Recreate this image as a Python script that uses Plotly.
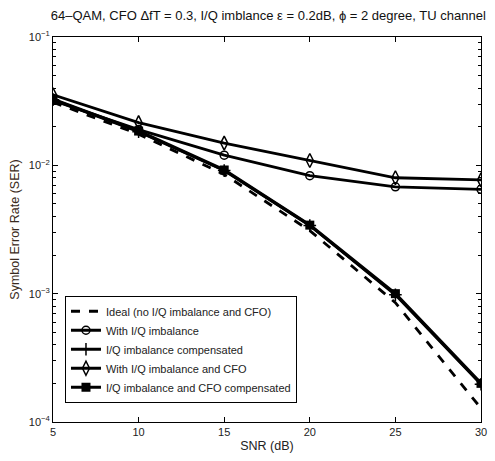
import plotly.graph_objects as go

snr = [5, 10, 15, 20, 25, 30]
ideal = [0.031, 0.0175, 0.0085, 0.0031, 0.00085, 0.000128]
with_iq = [0.032, 0.019, 0.012, 0.0083, 0.0068, 0.0065]
iq_comp = [0.0325, 0.0183, 0.0091, 0.0034, 0.00098, 0.000197]
with_iq_cfo = [0.0355, 0.0215, 0.0149, 0.0109, 0.0080, 0.0077]
iq_cfo_comp = [0.0328, 0.0185, 0.0092, 0.00342, 0.001, 0.0002]

names = ["Ideal (no I/Q imbalance and CFO)", "With I/Q imbalance",
         "I/Q imbalance compensated", "With I/Q imbalance and CFO",
         "I/Q imbalance and CFO compensated"]

fig = go.Figure()
fig.add_trace(go.Scatter(x=snr, y=ideal, name=names[0], mode="lines",
                         line=dict(color="black", width=2.8, dash="dash")))
fig.add_trace(go.Scatter(x=snr, y=with_iq, name=names[1], mode="lines+markers",
                         line=dict(color="black", width=2.8),
                         marker=dict(symbol="circle-open", size=8, color="black", line=dict(width=1.5))))
fig.add_trace(go.Scatter(x=snr, y=iq_comp, name=names[2], mode="lines+markers",
                         line=dict(color="black", width=2.8),
                         marker=dict(symbol="cross-thin-open", size=9, color="black", line=dict(width=1.5))))
fig.add_trace(go.Scatter(x=snr, y=with_iq_cfo, name=names[3], mode="lines+markers",
                         line=dict(color="black", width=2.8),
                         marker=dict(symbol="diamond-tall-open", size=10, color="black", line=dict(width=1.5))))
fig.add_trace(go.Scatter(x=snr, y=iq_cfo_comp, name=names[4], mode="lines+markers",
                         line=dict(color="black", width=3.2),
                         marker=dict(symbol="square", size=9, color="black")))

ytv = [1e-4, 1e-3, 1e-2, 1e-1]
ytt = ["10<sup>−4</sup>", "10<sup>−3</sup>", "10<sup>−2</sup>", "10<sup>−1</sup>"]
minor_vals = [m * 10 ** e for e in (-4, -3, -2) for m in range(2, 10)]

fig.update_layout(
    width=495, height=461,
    margin=dict(l=53, r=8, t=37, b=39),
    paper_bgcolor="white", plot_bgcolor="white",
    font=dict(family="Liberation Sans, Arial, sans-serif", size=11, color="#222"),
    title=dict(text="64–QAM, CFO ΔfT = 0.3, I/Q imblance ε = 0.2dB, ϕ = 2 degree, TU channel",
               x=0.542, xanchor="center", y=0.967, yanchor="middle",
               font=dict(size=13, color="#111")),
    showlegend=True,
    legend=dict(x=0.028, y=0.05, xanchor="left", yanchor="bottom",
                bgcolor="white", bordercolor="black", borderwidth=1,
                font=dict(size=11, color="#222"), tracegroupgap=0,
                itemwidth=30),
    xaxis=dict(range=[5, 30], tickvals=[5, 10, 15, 20, 25, 30],
               ticks="inside", ticklen=5, tickcolor="black",
               showline=True, linecolor="black", linewidth=1, mirror="allticks",
               showgrid=False, zeroline=False,
               title=dict(text="SNR (dB)", font=dict(size=12.5), standoff=4)),
    yaxis=dict(type="log", range=[-4, -1], tickvals=ytv, ticktext=ytt,
               ticks="inside", ticklen=5, tickcolor="black",
               showline=True, linecolor="black", linewidth=1, mirror="allticks",
               showgrid=False, zeroline=False,
               minor=dict(tickvals=minor_vals, ticks="inside", ticklen=3, tickcolor="black"),
               title=dict(text="Symbol Error Rate (SER)", font=dict(size=12.5, color="#3a2a20"), standoff=6)),
)

fig.write_html("out.html", config={"displayModeBar": False},
               post_script="document.body.style.margin='0';")
